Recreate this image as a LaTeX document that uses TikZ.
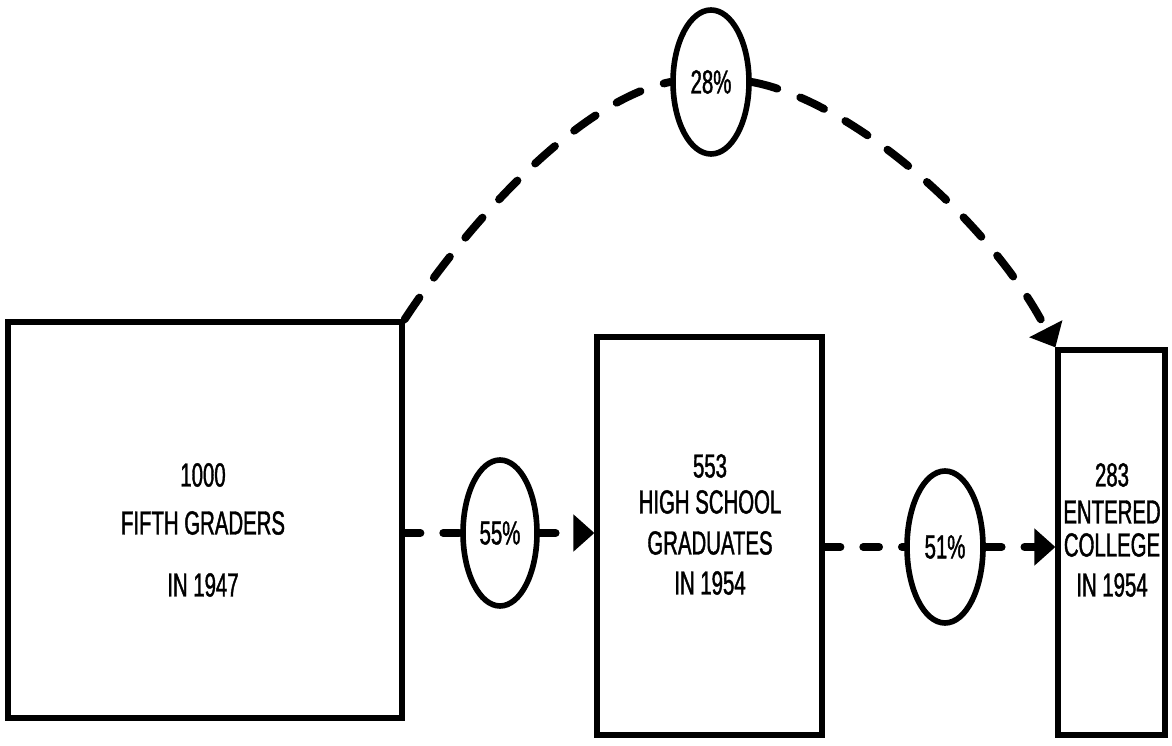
\documentclass[tikz,border=0pt]{standalone}
\usepackage{fontspec}
\setmainfont{Liberation Sans}
\newfontfamily\condfont[FakeStretch=0.61,FakeBold=1.2]{Liberation Sans}
\usetikzlibrary{arrows.meta,shapes.geometric}
\begin{document}
\begin{tikzpicture}[x=0.02cm,y=-0.02cm,
  box/.style={draw,line width=3pt,inner sep=0pt},
  pct/.style={draw,ellipse,line width=3.2pt,inner sep=0pt,
    font=\condfont\fontsize{19}{19}\selectfont},
  lbl/.style={font=\condfont\fontsize{19}{19}\selectfont,inner sep=0pt},
  flow/.style={line width=4.5pt,line cap=round,dash pattern=on 9pt off 13pt},
  arcflow/.style={line width=4.5pt,line cap=round,dash pattern=on 15pt off 14pt},
  tip/.style={-{Triangle[length=0.42cm,width=0.72cm]}}
]
\useasboundingbox (0,0) rectangle (1172,746);

% the three stages
\node[box,minimum width=7.88cm,minimum height=7.92cm] (fifth) at (205,520) {};
\node[box,minimum width=4.5cm,minimum height=7.96cm] (hs) at (709.5,536) {};
\node[box,minimum width=2.14cm,minimum height=7.7cm] (college) at (1111.5,542.5) {};

% stage labels
\node[lbl] (f1) at (203,475) {1000};
\node[lbl] (f2) at (203,523) {FIFTH GRADERS};
\node[lbl] (f3) at (203,585) {IN 1947};

\node[lbl] (h1) at (710,466) {553};
\node[lbl] (h2) at (710,502) {HIGH SCHOOL};
\node[lbl] (h3) at (710,543) {GRADUATES};
\node[lbl] (h4) at (710,583) {IN 1954};

\node[lbl] (c1) at (1112,475) {283};
\node[lbl] (c2) at (1112,512) {ENTERED};
\node[lbl] (c3) at (1112,545) {COLLEGE};
\node[lbl] (c4) at (1112,585) {IN 1954};

% rates
\node[pct,minimum width=1.48cm,minimum height=2.92cm] (e55) at (500,533) {55\%};
\node[pct,minimum width=1.52cm,minimum height=3.04cm] (e51) at (945,547) {51\%};
\node[pct,minimum width=1.52cm,minimum height=2.88cm] (e28) at (711,82) {28\%};

% flows between stages
\draw[flow] (fifth.east |- e55.west) -- (e55.west);
\draw[flow,tip] (e55.east) -- (hs.west |- e55.east);
\draw[flow] (hs.east |- e51.west) -- (e51.west);
\draw[flow,tip] (e51.east) -- (college.west |- e51.east);

% direct flow over the top
\draw[arcflow] (fifth.north east) .. controls (470,220) and (580,100) .. (e28.west);
\draw[arcflow,tip] (e28.east) .. controls (850,100) and (990,220) .. (college.north west);
\end{tikzpicture}
\end{document}
